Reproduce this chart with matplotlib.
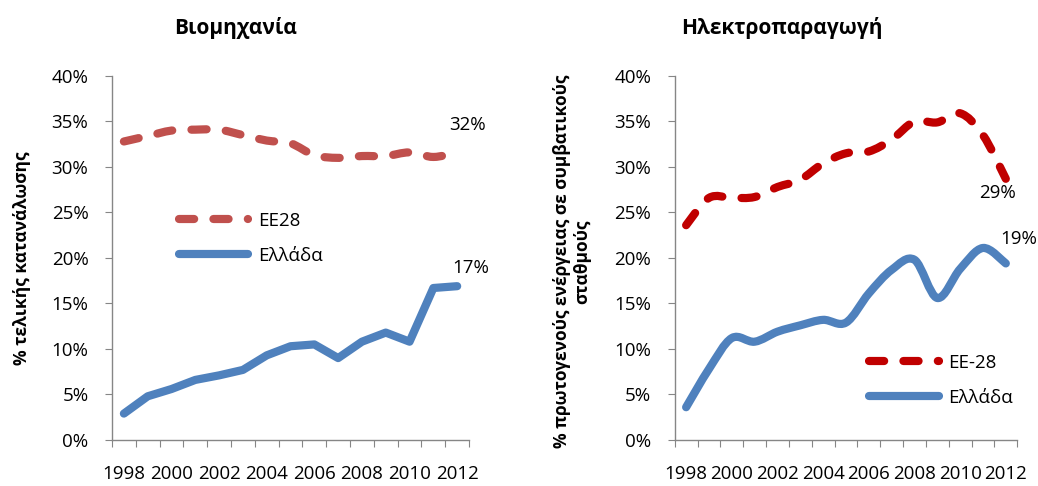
import numpy as np
import matplotlib
matplotlib.use("Agg")
import matplotlib.pyplot as plt
from matplotlib.path import Path
from matplotlib.patches import PathPatch
from matplotlib.lines import Line2D

plt.rcParams['font.family'] = ['Open Sans', 'DejaVu Sans']

# ========== Data ==========
years = list(range(1998, 2013))
year_labels = [str(y) for y in years[::2]]
y_ticks = [0, 5, 10, 15, 20, 25, 30, 35, 40]

# Industry (% of final consumption)
ind_eu28 = [32.8, 33.4, 34.0, 34.1, 34.1, 33.5, 32.9, 32.6, 31.3, 31.0, 31.2, 31.2, 31.6, 31.1, 31.6]
ind_greece = [2.9, 4.8, 5.6, 6.6, 7.1, 7.7, 9.3, 10.3, 10.5, 9.0, 10.8, 11.8, 10.8, 16.7, 16.9]

# Power generation (% of primary energy in conventional plants)
pow_eu28 = [23.6, 26.6, 26.6, 26.7, 27.8, 28.6, 30.4, 31.5, 31.7, 33.0, 35.0, 34.9, 35.9, 33.5, 28.7]
pow_greece = [3.6, 7.8, 11.2, 10.8, 11.9, 12.6, 13.2, 12.9, 16.1, 18.7, 19.8, 15.6, 18.8, 21.1, 19.4]

BLUE = '#4F81BD'
RED_L = '#C0504D'
RED_R = '#C00000'
GRAY = '#868686'
LW = 5.9
DASH = (0, (1.85, 2.35))
FS = 13.5


def smooth_path(x, y):
    # Catmull-Rom through the points, written as cubic Bezier segments
    pts = np.column_stack([x, y]).astype(float)
    n = len(pts)
    verts = [pts[0]]
    codes = [Path.MOVETO]
    for i in range(n - 1):
        p0 = pts[i - 1] if i > 0 else pts[i]
        p1 = pts[i]
        p2 = pts[i + 1]
        p3 = pts[i + 2] if i + 2 < n else pts[i + 1]
        c1 = p1 + (p2 - p0) / 6.0
        c2 = p2 - (p3 - p1) / 6.0
        verts += [c1, c2, p2]
        codes += [Path.CURVE4] * 3
    return Path(verts, codes)


def style_axes(ax):
    ax.set_xlim(-0.5, len(years) - 0.5)
    ax.set_ylim(0, 40)
    for s in ['top', 'right']:
        ax.spines[s].set_visible(False)
    for s in ['left', 'bottom']:
        ax.spines[s].set_color(GRAY)
        ax.spines[s].set_linewidth(1.0)
    ax.set_yticks(y_ticks)
    ax.set_yticklabels([f'{v}%' for v in y_ticks])
    ax.tick_params(axis='y', colors=GRAY, labelcolor='black', length=5, labelsize=FS, pad=12)
    ax.set_xticks(np.arange(-0.5, len(years), 1))
    ax.set_xticklabels([''] * len(years) + [''])
    ax.tick_params(axis='x', which='major', colors=GRAY, length=5)
    ax.set_xticks(np.arange(0, len(years), 2), minor=True)
    ax.set_xticklabels(year_labels, minor=True)
    ax.tick_params(axis='x', which='minor', length=0, labelsize=FS, pad=18)


def add_legend(ax, handles, labels, x0, yc):
    ax.legend(handles, labels, loc='center left', bbox_to_anchor=(x0, yc),
              frameon=False, fontsize=FS, handlelength=3.7, handletextpad=0.5,
              labelspacing=0.9, borderpad=0, borderaxespad=0)


fig = plt.figure(figsize=(10.38, 4.86), dpi=100)
ax1 = fig.add_axes([0.1079, 0.0947, 0.344, 0.749])
ax2 = fig.add_axes([0.650, 0.0947, 0.330, 0.749])
x = np.arange(len(years))

# ---- Left: industry ----
style_axes(ax1)
ax1.add_patch(PathPatch(smooth_path(x, ind_eu28), fill=False, edgecolor=RED_L,
                        linewidth=LW, linestyle=DASH, capstyle='round', joinstyle='round'))
ax1.plot(x, ind_greece, color=BLUE, linewidth=LW, solid_capstyle='round', solid_joinstyle='round')
ax1.text(14.42, 34.6, '32%', fontsize=FS, ha='center', va='center')
ax1.text(14.55, 18.9, '17%', fontsize=FS, ha='center', va='center')
ax1.set_ylabel('% τελικής κατανάλωσης', fontsize=12.5, fontweight='bold')
ax1.yaxis.set_label_coords(-0.228, 0.5)
h1 = [Line2D([], [], color=RED_L, linewidth=LW, linestyle=DASH, dash_capstyle='round'),
      Line2D([], [], color=BLUE, linewidth=LW, solid_capstyle='round')]
add_legend(ax1, h1, ['EE28', 'Ελλάδα'], 0.1877, 0.5536)

# ---- Right: power generation ----
style_axes(ax2)
ax2.add_patch(PathPatch(smooth_path(x, pow_eu28), fill=False, edgecolor=RED_R,
                        linewidth=LW, linestyle=DASH, capstyle='round', joinstyle='round'))
ax2.add_patch(PathPatch(smooth_path(x, pow_greece), fill=False, edgecolor=BLUE,
                        linewidth=LW, capstyle='round', joinstyle='round'))
ax2.text(13.62, 27.1, '29%', fontsize=FS, ha='center', va='center')
ax2.text(14.58, 22.1, '19%', fontsize=FS, ha='center', va='center')
ax2.set_ylabel('% πρωτογενούς ενέργειας σε συμβατικούς\nσταθμούς', fontsize=12.5,
               fontweight='bold', linespacing=1.1)
ax2.yaxis.set_label_coords(-0.245, 0.49)
h2 = [Line2D([], [], color=RED_R, linewidth=LW, linestyle=DASH, dash_capstyle='round'),
      Line2D([], [], color=BLUE, linewidth=LW, solid_capstyle='round')]
add_legend(ax2, h2, ['EE-28', 'Ελλάδα'], 0.5685, 0.1635)

# titles sit left of the plot centres, as in the original
fig.text(236 / 1038, 1 - 28 / 486, 'Βιομηχανία', fontsize=15, fontweight='bold',
         ha='center', va='center')
fig.text(782 / 1038, 1 - 28 / 486, 'Ηλεκτροπαραγωγή', fontsize=15, fontweight='bold',
         ha='center', va='center')

fig.savefig('out.png', dpi=100)
